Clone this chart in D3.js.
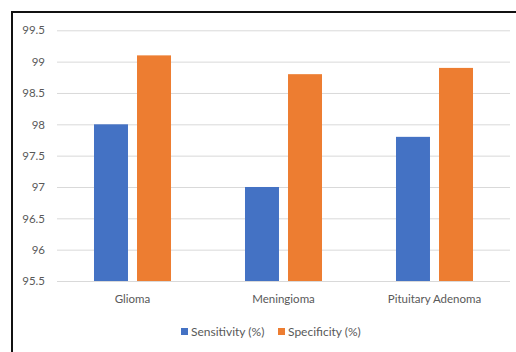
<!DOCTYPE html>
<html>
<head>
<meta charset="utf-8">
<script src="https://cdn.jsdelivr.net/npm/d3@7"></script>
<style>
  html, body { margin: 0; padding: 0; background: #fff; }
  svg { display: block; }
  text { font-family: Lato, "Open Sans", sans-serif; fill: #595959; }
</style>
</head>
<body>
<svg id="chart" width="516" height="352"></svg>
<script>
// Detection performance per tumour type
const categories = ["Glioma", "Meningioma", "Pituitary Adenoma"];
const seriesNames = ["Sensitivity (%)", "Specificity (%)"];
const sensitivity = [98.0, 97.0, 97.8];
const specificity = [99.1, 98.8, 98.9];
const yTicks = [95.5, 96, 96.5, 97, 97.5, 98, 98.5, 99, 99.5];
const colors = ["#4472C4", "#ED7D31"];

const seriesValues = [sensitivity, specificity];
const rows = categories.map((c, i) => ({
  category: c,
  values: seriesNames.map((s, j) => ({ series: s, value: seriesValues[j][i] }))
}));

const svg = d3.select("#chart");
const W = 516, H = 352;
const plot = { left: 57, right: 510, top: 30.3, bottom: 281 };

// outer frame (left and top edges)
svg.append("path")
  .attr("d", `M12,${H} L12,12 L${W},12`)
  .attr("fill", "none")
  .attr("stroke", "#111")
  .attr("stroke-width", 2);

const y = d3.scaleLinear().domain([95.5, 99.5]).range([plot.bottom, plot.top]);
const x0 = d3.scaleBand().domain(categories).range([plot.left, plot.right]).paddingInner(0).paddingOuter(0);
const x1 = d3.scaleBand().domain(seriesNames).range([0, x0.bandwidth()])
  .paddingInner(0.21).paddingOuter(0.86);
const color = d3.scaleOrdinal().domain(seriesNames).range(colors);

// gridlines + y labels
const yAxis = d3.axisLeft(y).tickValues(yTicks).tickFormat(d => String(d))
  .tickSize(-(plot.right - plot.left)).tickPadding(12);
const gy = svg.append("g").attr("transform", `translate(${plot.left},0)`).call(yAxis);
gy.select(".domain").remove();
gy.selectAll(".tick line").attr("stroke", "#d9d9d9").attr("stroke-width", 1);
gy.selectAll(".tick text").attr("font-size", 11.5).style("fill", "#595959")
  .style("font-family", "Lato, 'Open Sans', sans-serif");

// bars
const groups = svg.append("g").selectAll("g").data(rows).join("g")
  .attr("transform", d => `translate(${x0(d.category)},0)`);
groups.selectAll("rect").data(d => d.values).join("rect")
  .attr("x", d => x1(d.series))
  .attr("width", x1.bandwidth())
  .attr("y", d => y(d.value))
  .attr("height", d => y(95.5) - y(d.value))
  .attr("fill", d => color(d.series));

// category labels
const xAxis = d3.axisBottom(x0).tickSize(0).tickPadding(14);
const gx = svg.append("g").attr("transform", `translate(0,${plot.bottom})`).call(xAxis);
gx.select(".domain").remove();
gx.selectAll(".tick text").attr("font-size", 11.5).style("fill", "#595959")
  .style("font-family", "Lato, 'Open Sans', sans-serif");

// legend
const legendX = [181, 278];
const lg = svg.append("g").selectAll("g").data(seriesNames).join("g")
  .attr("transform", (d, i) => `translate(${legendX[i]},327)`);
lg.append("rect").attr("width", 7).attr("height", 7).attr("y", 1)
  .attr("fill", d => color(d));
lg.append("text").attr("x", 10).attr("y", 9).attr("font-size", 12)
  .text(d => d);
</script>
</body>
</html>
